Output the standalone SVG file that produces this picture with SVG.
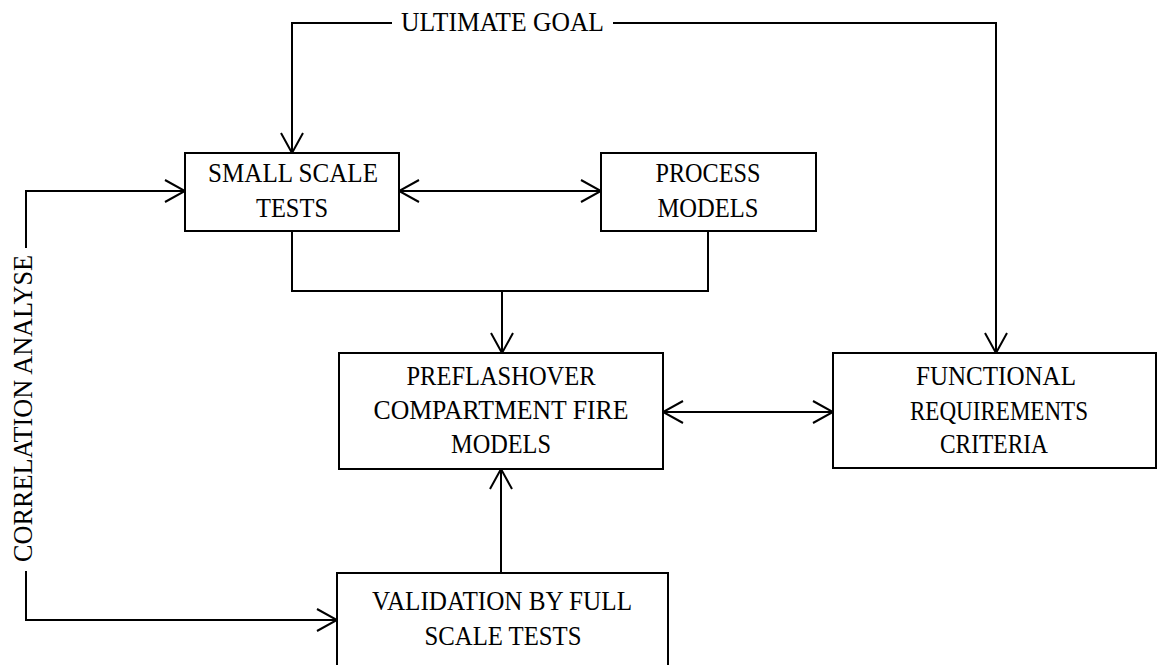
<svg xmlns="http://www.w3.org/2000/svg" width="1158" height="665" viewBox="0 0 1158 665">
<style>
.box{fill:#fff;stroke:#000;stroke-width:2}
.t{font-family:"Liberation Serif","Times New Roman",serif;font-size:26.5px;fill:#000;text-anchor:middle}
.c{fill:none;stroke:#000;stroke-width:2}
</style>
<defs>
<marker id="arr" markerUnits="userSpaceOnUse" markerWidth="24" markerHeight="26" viewBox="-2 -2 24 26" refX="20" refY="11" orient="auto-start-reverse">
<path d="M0,0 L20,11 L0,22" fill="none" stroke="#000" stroke-width="2"/>
</marker>
</defs>
<rect width="1158" height="665" fill="#fff"/>
<g id="connectors">
<path class="c" d="M392,23 H292 V153" marker-end="url(#arr)"/>
<path class="c" d="M613,23 H996 V353" marker-end="url(#arr)"/>
<path class="c" d="M399,191 H601" marker-start="url(#arr)" marker-end="url(#arr)"/>
<path class="c" d="M292,231 V291 H708 V231"/>
<path class="c" d="M502,291 V353" marker-end="url(#arr)"/>
<path class="c" d="M663,412 H833" marker-start="url(#arr)" marker-end="url(#arr)"/>
<path class="c" d="M501,573 V469" marker-end="url(#arr)"/>
<path class="c" d="M26,248 V191 H185" marker-end="url(#arr)"/>
<path class="c" d="M26,571 V620 H337" marker-end="url(#arr)"/>
<text class="t" x="502.5" y="31" textLength="203" lengthAdjust="spacingAndGlyphs">ULTIMATE GOAL</text>
<text class="t" textLength="307" lengthAdjust="spacingAndGlyphs" transform="translate(32,408.5) rotate(-90)" style="font-size:27px">CORRELATION ANALYSE</text>
</g>
<g id="small-scale-tests">
<rect class="box" x="185" y="153" width="214" height="78"/>
<text class="t" x="293" y="182" textLength="170" lengthAdjust="spacingAndGlyphs">SMALL SCALE</text>
<text class="t" x="292" y="217" textLength="72" lengthAdjust="spacingAndGlyphs">TESTS</text>
</g>
<g id="process-models">
<rect class="box" x="601" y="153" width="215" height="78"/>
<text class="t" x="708" y="182" textLength="105" lengthAdjust="spacingAndGlyphs">PROCESS</text>
<text class="t" x="708" y="217" textLength="101" lengthAdjust="spacingAndGlyphs">MODELS</text>
</g>
<g id="preflashover">
<rect class="box" x="339" y="353" width="324" height="116"/>
<text class="t" x="501" y="385" textLength="189" lengthAdjust="spacingAndGlyphs">PREFLASHOVER</text>
<text class="t" x="501" y="419" textLength="255" lengthAdjust="spacingAndGlyphs">COMPARTMENT FIRE</text>
<text class="t" x="501" y="453" textLength="100" lengthAdjust="spacingAndGlyphs">MODELS</text>
</g>
<g id="functional">
<rect class="box" x="833" y="353" width="323" height="115"/>
<text class="t" x="996" y="385" textLength="160" lengthAdjust="spacingAndGlyphs">FUNCTIONAL</text>
<text class="t" x="999" y="420" textLength="178" lengthAdjust="spacingAndGlyphs">REQUIREMENTS</text>
<text class="t" x="994" y="453" textLength="108" lengthAdjust="spacingAndGlyphs">CRITERIA</text>
</g>
<g id="validation">
<rect class="box" x="337" y="573" width="331" height="100"/>
<text class="t" x="502" y="610" textLength="260" lengthAdjust="spacingAndGlyphs">VALIDATION BY FULL</text>
<text class="t" x="503" y="645" textLength="157" lengthAdjust="spacingAndGlyphs">SCALE TESTS</text>
</g>
</svg>
